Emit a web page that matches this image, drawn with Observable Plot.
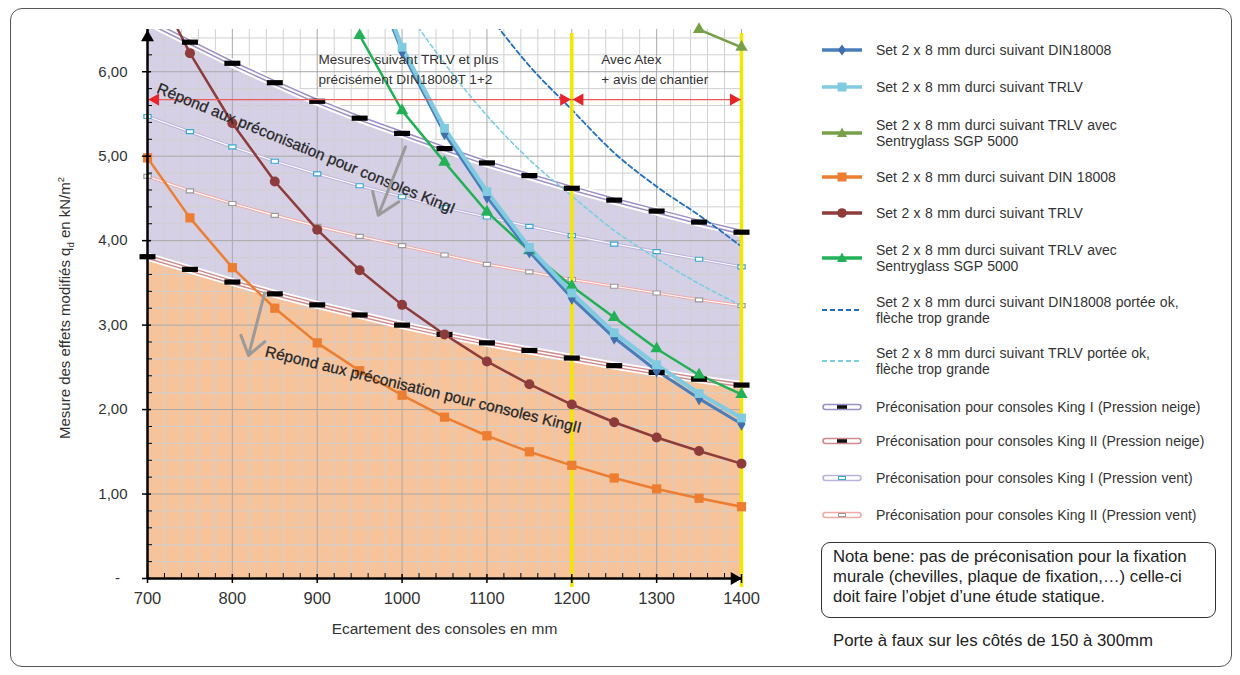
<!DOCTYPE html>
<html><head><meta charset="utf-8">
<script src="https://cdn.jsdelivr.net/npm/d3@7"></script>
<script src="https://cdn.jsdelivr.net/npm/@observablehq/plot@0.6"></script>
<style>
body{margin:0;background:#fff;font-family:"Liberation Sans",Arial,Helvetica,sans-serif;color:#333;}
#wrap{position:relative;width:1240px;height:675px;overflow:hidden;}
#frame{position:absolute;left:10px;top:8px;width:1222px;height:659px;border:1px solid #555;border-radius:12px;box-sizing:border-box;}
#chart{position:absolute;left:0;top:0;}
#ytitle{position:absolute;left:65px;top:308px;transform:translate(-50%,-50%) rotate(-90deg);white-space:nowrap;font-size:15px;color:#333;}
#ytitle sub{font-size:9.5px;}
#ytitle sup{font-size:9.5px;}
.leg{position:absolute;left:822px;display:flex;align-items:center;font-size:14px;line-height:16px;word-spacing:0.5px;color:#333;}
.leg svg{flex:none;margin-right:14px;}
#nota{position:absolute;left:821px;top:542px;width:395px;height:76px;border:1px solid #333;border-radius:9px;box-sizing:border-box;padding:4px 0 0 11px;font-size:16.7px;line-height:20px;color:#222;white-space:nowrap;}
#porte{position:absolute;left:833px;top:631px;font-size:16.8px;color:#222;white-space:nowrap;}
</style></head>
<body><div id="wrap"><div id="frame"></div><div id="chart"></div>
<div id="ytitle">Mesure des effets modifiés q<sub>d</sub> en kN/m<sup>2</sup></div>
<div id="legend"></div>
<div id="nota">Nota bene: pas de préconisation pour la fixation<br>murale (chevilles, plaque de fixation,…) celle-ci<br>doit faire l’objet d’une étude statique.</div>
<div id="porte">Porte à faux sur les côtés de 150 à 300mm</div>
</div>
<script>
// ---------- data ----------
const xAll = [700,750,800,850,900,950,1000,1050,1100,1150,1200,1250,1300,1350,1400];
const x950 = [950,1000,1050,1100,1150,1200,1250,1300,1350,1400];
const xOlive = [1350,1400];
const xDashDin = [1100,1150,1200,1250,1300,1350,1400];
const xDashTrlv = [1000,1050,1100,1150,1200,1250,1300,1350,1400];

const kingINeige  = [6.60,6.35,6.10,5.87,5.65,5.45,5.27,5.09,4.92,4.77,4.62,4.48,4.35,4.22,4.10];
const kingIINeige = [3.81,3.66,3.51,3.37,3.24,3.12,3.00,2.89,2.79,2.70,2.61,2.52,2.44,2.36,2.29];
const kingIVent   = [5.47,5.29,5.11,4.94,4.79,4.65,4.52,4.39,4.28,4.17,4.06,3.96,3.87,3.78,3.69];
const kingIIVent  = [4.76,4.59,4.44,4.30,4.17,4.05,3.94,3.83,3.72,3.63,3.54,3.46,3.38,3.30,3.23];
const din18008Orange = [4.98,4.27,3.68,3.20,2.79,2.46,2.17,1.91,1.69,1.50,1.34,1.19,1.06,0.95,0.85];
const trlvRed = [7.20,6.22,5.39,4.70,4.13,3.65,3.24,2.89,2.57,2.30,2.06,1.85,1.67,1.51,1.36];
const sgpGreen = [6.43,5.54,4.93,4.34,3.88,3.46,3.09,2.72,2.41,2.18];
const trlvLightBlue = [7.60,6.29,5.33,4.58,3.92,3.38,2.91,2.53,2.19,1.90];
const dinBlue = [7.50,6.24,5.27,4.52,3.87,3.32,2.85,2.46,2.13,1.83];
const sgpOlive = [6.50,6.29];
const dashDin = [6.70,6.07,5.55,5.04,4.64,4.30,3.93];
const dashTrlv = [6.80,6.10,5.48,4.96,4.53,4.12,3.79,3.49,3.23];

const xTicks = [700,800,900,1000,1100,1200,1300,1400];
const yTicks = [0,1,2,3,4,5,6];
const limitX = [1200,1400];
const redSpans = [{x1:700,x2:1200,y:5.67},{x1:1200,x2:1400,y:5.67}];
const zoneTexts = [
  {x:901.5,y:6.05,t:"Mesures suivant TRLV et plus\nprécisément DIN18008T 1+2"},
  {x:1234.7,y:6.05,t:"Avec Atex\n+ avis de chantier"}
];
const diagTexts = [
  {x:712,y:5.81,t:"Répond aux préconisation pour consoles KingI",a:22.3},
  {x:839,y:2.69,t:"Répond aux préconisation pour consoles KingII",a:13.7}
];
const grayArrows = [
  {x1:1004,y1:5.11,x2:972,y2:4.30},
  {x1:838,y1:3.38,x2:819,y2:2.64}
];
const legendLabels = [
  "Set 2 x 8 mm durci suivant DIN18008",
  "Set 2 x 8 mm durci suivant TRLV",
  "Set 2 x 8 mm durci suivant TRLV avec<br>Sentryglass SGP 5000",
  "Set 2 x 8 mm durci suivant DIN 18008",
  "Set 2 x 8 mm durci suivant TRLV",
  "Set 2 x 8 mm durci suivant TRLV avec<br>Sentryglass SGP 5000",
  "Set 2 x 8 mm durci suivant DIN18008 portée ok,<br>flèche trop grande",
  "Set 2 x 8 mm durci suivant TRLV portée ok,<br>flèche trop grande",
  "Préconisation pour consoles King I (Pression neige)",
  "Préconisation pour consoles King II (Pression neige)",
  "Préconisation pour consoles King I (Pression vent)",
  "Préconisation pour consoles King II (Pression vent)"
];

// ---------- helpers ----------
const pts = (xs, ys) => xs.map((x,i)=>({x, y:ys[i]}));
const Y_MAX = 6.52;
const vis = arr => arr.filter(d => d.y <= Y_MAX);
const C = {
  blue:"#4a7ebb", lblue:"#80cbe0", olive:"#78a048", orange:"#ed7d31", red:"#8e3b3b", green:"#23b158",
  dDin:"#1f6ebf", dTrlv:"#7ccfe2", k1n:"#9d8fc6", k2n:"#d08a8c", k1v:"#bdb3da", k2v:"#eeaaa5",
  lav:"#d6d0e7", org:"#f6c39b"
};
const barSym = {draw(ctx){ ctx.rect(-8,-2.6,16,5.2); }};
const smallSym = {draw(ctx){ ctx.rect(-3.6,-2,7.2,4); }};

const dK1N = pts(xAll, kingINeige), dK2N = pts(xAll, kingIINeige);
const dK1V = pts(xAll, kingIVent), dK2V = pts(xAll, kingIIVent);
const dOr = pts(xAll, din18008Orange), dRed = pts(xAll, trlvRed);
const dGr = pts(x950, sgpGreen), dLb = pts(x950, trlvLightBlue), dBl = pts(x950, dinBlue);
const dOl = pts(xOlive, sgpOlive), dDD = pts(xDashDin, dashDin), dDT = pts(xDashTrlv, dashTrlv);

function dbl(data, color, outer, inner, halo) {
  const m = [];
  if (halo) m.push(Plot.line(data, {x:"x", y:"y", stroke:"white", strokeWidth:halo, clip:true}));
  m.push(Plot.line(data, {x:"x", y:"y", stroke:color, strokeWidth:outer, clip:true}));
  m.push(Plot.line(data, {x:"x", y:"y", stroke:"white", strokeWidth:inner, clip:true}));
  return m;
}
const ln = (data, color, w, extra={}) => Plot.line(data, {x:"x", y:"y", stroke:color, strokeWidth:w, clip:true, ...extra});

const minorX = d3.range(700, 1401, 20).filter(v => v % 100 !== 0);
const minorY = d3.range(1, 33).map(i => i/5).filter(v => Math.abs(v - Math.round(v)) > 1e-9);
const fmtY = d => d === 0 ? "-\u2002" : d.toFixed(2).replace(".", ",");

const chart = Plot.plot({
  width: 780, height: 640,
  marginLeft: 147, marginRight: 39, marginTop: 29, marginBottom: 62,
  x: {domain:[700,1400]},
  y: {domain:[0,6.5]},
  style: {fontFamily:"'Liberation Sans', Arial, sans-serif", color:"#333", background:"transparent"},
  marks: [
    Plot.areaY(dK1N, {x:"x", y1:0, y2:"y", fill:C.lav, clip:true}),
    Plot.areaY(dK2N, {x:"x", y1:0, y2:"y", fill:C.org, clip:true}),
    Plot.gridX({ticks:minorX, stroke:"#d0d0d0", strokeOpacity:1}),
    Plot.gridY({ticks:minorY, stroke:"#d0d0d0", strokeOpacity:1}),
    Plot.gridX({ticks:xTicks, stroke:"#a8a8a8", strokeOpacity:1}),
    Plot.gridY({ticks:yTicks, stroke:"#a8a8a8", strokeOpacity:1}),
    ...dbl(dK1V, C.k1v, 3.2, 1.2),
    ...dbl(dK2V, C.k2v, 3.2, 1.2),
    Plot.dot(dK1V, {x:"x", y:"y", symbol:smallSym, r:2, fill:"white", stroke:"#3aa8cc", strokeWidth:1.2}),
    Plot.dot(dK2V, {x:"x", y:"y", symbol:smallSym, r:2, fill:"white", stroke:"#9a9a9a", strokeWidth:1.2}),
    ...dbl(dK1N, C.k1n, 5, 2, 9),
    ...dbl(dK2N, C.k2n, 4.5, 1.6, 8),
    ln(dDD, C.dDin, 1.8, {strokeDasharray:"5,3", curve:"monotone-x"}),
    ln(dDT, C.dTrlv, 1.6, {strokeDasharray:"4,3", curve:"monotone-x"}),
    ln(dOr, C.orange, 2.5),
    ln(dRed, C.red, 2.5),
    ln(dOl, C.olive, 2.5),
    ln(dGr, C.green, 2.5),
    ln(dBl, C.blue, 3),
    ln(dLb, C.lblue, 4.2),
    Plot.ruleX(limitX, {stroke:"#f3e600", strokeWidth:3.5, insetTop:4, insetBottom:-9}),
    Plot.dot(vis(dK1N), {x:"x", y:"y", symbol:barSym, r:2, fill:"black"}),
    Plot.dot(vis(dK2N), {x:"x", y:"y", symbol:barSym, r:2, fill:"black"}),
    Plot.dot(vis(dOr), {x:"x", y:"y", symbol:"square", r:5.2, fill:C.orange}),
    Plot.dot(vis(dRed), {x:"x", y:"y", symbol:"circle", r:5, fill:C.red}),
    Plot.dot(vis(dOl), {x:"x", y:"y", symbol:"triangle", r:4.6, fill:C.olive}),
    Plot.dot(vis(dGr), {x:"x", y:"y", symbol:"triangle", r:4.6, fill:C.green}),
    Plot.dot(vis(dBl), {x:"x", y:"y", symbol:"diamond", r:4.2, fill:"#3f70ad"}),
    Plot.dot(vis(dLb), {x:"x", y:"y", symbol:"square", r:5, fill:C.lblue}),
    Plot.ruleY(redSpans, {y:"y", x1:"x1", x2:"x2", stroke:"#e85a5c", strokeWidth:1.3}),
    Plot.dot(redSpans, {x:"x1", y:"y", symbol:"triangle", rotate:-90, r:4.6, fill:"#e8232a", dx:8}),
    Plot.dot(redSpans, {x:"x2", y:"y", symbol:"triangle", rotate:90, r:4.6, fill:"#e8232a", dx:-8}),
    Plot.text(zoneTexts, {x:"x", y:"y", text:"t", textAnchor:"start", lineAnchor:"middle", lineHeight:1.45, fontSize:13.6, fill:"#333"}),
    Plot.text(diagTexts, {x:"x", y:"y", text:"t", rotate:"a", textAnchor:"start", fontSize:15.5, fill:"#262626", stroke:"#262626", strokeWidth:0.25}),
    Plot.arrow(grayArrows, {x1:"x1", y1:"y1", x2:"x2", y2:"y2", stroke:"#9a9a9a", strokeWidth:3, headLength:13, headAngle:70}),
    Plot.ruleX([700], {stroke:"black", strokeWidth:2.5}),
    Plot.ruleY([0], {stroke:"black", strokeWidth:2.5}),
    Plot.dot([0], {frameAnchor:"top-left", symbol:"triangle", r:4.8, fill:"black", dy:8}),
    Plot.dot([0], {frameAnchor:"bottom-right", symbol:"triangle", rotate:90, r:4.8, fill:"black", dx:-7}),
    Plot.axisX({ticks:minorX, tickSize:5, dy:-5, fill:"none", stroke:"black", label:null}),
    Plot.axisX({ticks:xTicks, tickSize:9, dy:-4, fill:"none", stroke:"black", strokeWidth:1.5, label:null}),
    Plot.axisX({ticks:xTicks, tickSize:0, tickPadding:14, fontSize:16.5, fill:"#333", label:null, tickFormat:d=>String(d)}),
    Plot.axisY({ticks:minorY, tickSize:5, dx:5, fill:"none", stroke:"black", label:null}),
    Plot.axisY({ticks:yTicks, tickSize:9, dx:4, fill:"none", stroke:"black", strokeWidth:1.5, label:null}),
    Plot.axisY({ticks:yTicks, tickSize:0, tickPadding:20, fontSize:15, fill:"#333", label:null, tickFormat:fmtY}),
    Plot.text(["Ecartement des consoles en mm"], {frameAnchor:"bottom", dy:55, text:d=>d, fontSize:15.5, fill:"#333"})
  ]
});
document.getElementById("chart").appendChild(chart);

// ---------- legend ----------
const legendCenters = [50,87,133,177,213,258,310,361,407,441,478,515];
function capsule(col, inner, innerStroke){
  return `<rect x="1" y="4.5" width="38" height="5" rx="2.5" fill="white" stroke="${col}" stroke-width="1.6"/>` +
    (innerStroke ? `<rect x="16.5" y="5.5" width="7" height="3" fill="white" stroke="${inner}" stroke-width="1"/>`
                 : `<rect x="15" y="5.2" width="10" height="3.6" fill="${inner}"/>`);
}
const swatches = [
  `<line x1="0" y1="7" x2="40" y2="7" stroke="${C.blue}" stroke-width="3.5"/><path d="M20,1.5L24,7L20,12.5L16,7Z" fill="#3f70ad"/>`,
  `<line x1="0" y1="7" x2="40" y2="7" stroke="${C.lblue}" stroke-width="3.5"/><rect x="15.5" y="2.5" width="9" height="9" fill="${C.lblue}"/>`,
  `<line x1="0" y1="7" x2="40" y2="7" stroke="${C.olive}" stroke-width="3.5"/><path d="M20,1.5L25,11L15,11Z" fill="${C.olive}"/>`,
  `<line x1="0" y1="7" x2="40" y2="7" stroke="${C.orange}" stroke-width="3.5"/><rect x="15.5" y="2.5" width="9" height="9" fill="${C.orange}"/>`,
  `<line x1="0" y1="7" x2="40" y2="7" stroke="${C.red}" stroke-width="3.5"/><circle cx="20" cy="7" r="4.8" fill="${C.red}"/>`,
  `<line x1="0" y1="7" x2="40" y2="7" stroke="${C.green}" stroke-width="3.5"/><path d="M20,1.5L25,11L15,11Z" fill="${C.green}"/>`,
  `<line x1="0" y1="7" x2="40" y2="7" stroke="${C.dDin}" stroke-width="2" stroke-dasharray="5,3"/>`,
  `<line x1="0" y1="7" x2="40" y2="7" stroke="${C.dTrlv}" stroke-width="2" stroke-dasharray="5,3"/>`,
  capsule(C.k1n, "#111", false),
  capsule(C.k2n, "#111", false),
  capsule(C.k1v, "#3aa8cc", true),
  capsule(C.k2v, "#9a9a9a", true)
];
const legend = document.getElementById("legend");
legendLabels.forEach((lab, i) => {
  const lines = lab.split("<br>").length;
  const h = lines * 16;
  const div = document.createElement("div");
  div.className = "leg";
  div.style.top = (legendCenters[i] - h/2) + "px";
  div.style.height = h + "px";
  div.innerHTML = `<svg width="40" height="14" viewBox="0 0 40 14">${swatches[i]}</svg><span>${lab}</span>`;
  legend.appendChild(div);
});
</script>
</body></html>
